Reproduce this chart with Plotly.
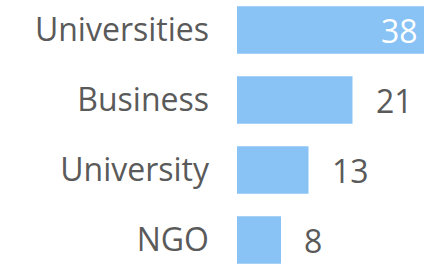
import plotly.graph_objects as go

categories = ["Universities", "Business", "University", "NGO"]
values = [38, 21, 13, 8]

BAR_COLOR = "#89C3F5"
TEXT_COLOR = "#5a5a5a"
FONT = "Open Sans"
X_MAX = 34.0
FS = 32

fig = go.Figure(
    go.Bar(
        x=values,
        y=categories,
        orientation="h",
        marker=dict(color=BAR_COLOR, line=dict(width=0)),
        hoverinfo="skip",
    )
)

annotations = []
for cat, v in zip(categories, values):
    if v > X_MAX:
        annotations.append(dict(
            x=X_MAX, y=cat, xref="x", yref="y", text=str(v), showarrow=False,
            xanchor="right", xshift=-4, font=dict(family=FONT, size=FS, color="white"),
        ))
    else:
        annotations.append(dict(
            x=v, y=cat, xref="x", yref="y", text=str(v), showarrow=False,
            xanchor="left", xshift=21, font=dict(family=FONT, size=FS, color=TEXT_COLOR),
        ))

fig.update_layout(
    width=424, height=265,
    margin=dict(l=237, r=0, t=0, b=0),
    paper_bgcolor="white", plot_bgcolor="white",
    bargap=0.32,
    showlegend=False,
    annotations=annotations,
    font=dict(family=FONT, color=TEXT_COLOR),
    xaxis=dict(range=[0, X_MAX], visible=False, fixedrange=True),
    yaxis=dict(
        categoryorder="array", categoryarray=categories,
        range=[(265 - 30) / 70, -30 / 70],
        showgrid=False, zeroline=False, showline=False, ticks="",
        tickfont=dict(family=FONT, size=FS, color=TEXT_COLOR),
        ticklabelstandoff=27,
        fixedrange=True,
    ),
)

fig.write_html(
    "out.html",
    config={"displayModeBar": False, "staticPlot": True},
    post_script="document.body.style.margin='0';document.body.style.overflow='hidden';",
)
